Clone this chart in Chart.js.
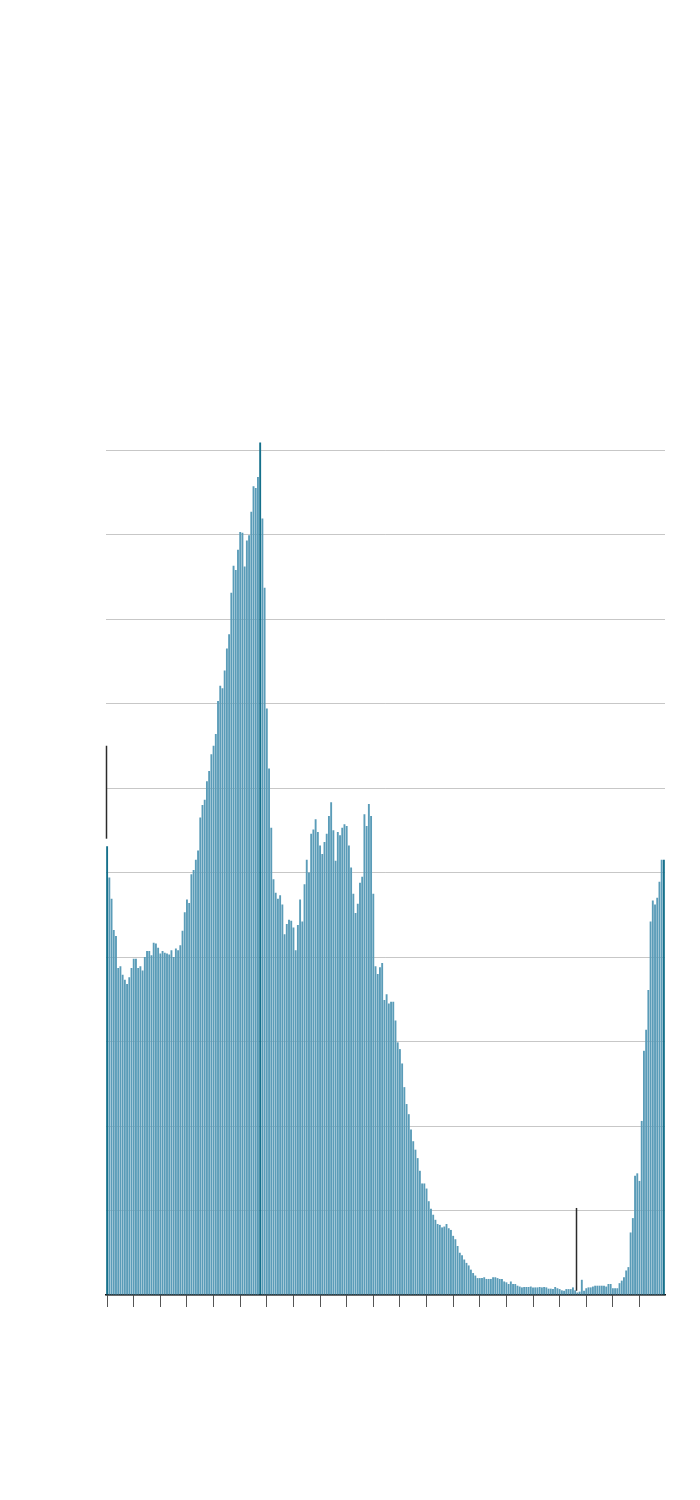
<!DOCTYPE html>
<html>
<head>
<meta charset="utf-8">
<script src="https://cdn.jsdelivr.net/npm/chart.js@4.4.1/dist/chart.umd.min.js"></script>
<style>
  body { margin: 0; background: #ffffff; }
  canvas { display: block; }
</style>
</head>
<body>
<canvas id="barChart" width="700" height="1500"></canvas>
<script>
// 21 years of monthly values, one tick per year
const years = ['Year 1', 'Year 2', 'Year 3', 'Year 4', 'Year 5', 'Year 6', 'Year 7',
  'Year 8', 'Year 9', 'Year 10', 'Year 11', 'Year 12', 'Year 13', 'Year 14',
  'Year 15', 'Year 16', 'Year 17', 'Year 18', 'Year 19', 'Year 20', 'Year 21'];
const months = ['Jan', 'Feb', 'Mar', 'Apr', 'May', 'Jun', 'Jul', 'Aug', 'Sep', 'Oct', 'Nov', 'Dec'];

const values = [
  53.1, 49.4, 46.9, 43.2, 42.5, 38.7, 38.9, 37.9, 37.3, 36.8,
  37.6, 38.7, 39.8, 39.8, 38.7, 38.9, 38.4, 40.0, 40.7, 40.7,
  40.2, 41.7, 41.6, 41.1, 40.4, 40.7, 40.5, 40.4, 40.3, 40.8,
  40.0, 41.0, 40.8, 41.4, 43.1, 45.3, 46.8, 46.4, 49.8, 50.3,
  51.5, 52.6,
  56.5, 58.0, 58.6, 60.8, 62.0, 64.0, 65.0, 66.4,
  70.3, 72.1, 71.8, 73.9, 76.5, 78.2, 83.1, 86.3, 85.8, 88.2,
  90.3, 90.2, 86.2, 89.3, 89.9, 92.7, 95.7, 95.5, 96.8, 100.9,
  91.9, 83.7, 69.4, 62.3,
  55.3, 49.2, 47.6, 46.9, 47.3, 46.2,
  42.7, 43.9, 44.4, 44.3, 43.5, 40.8, 43.8, 46.8, 44.2, 48.6,
  51.5, 50.0, 54.6, 55.1, 56.3, 54.8, 53.2, 52.2, 53.6, 54.6,
  56.7, 58.3, 55.0, 51.4, 54.8, 54.4, 55.3, 55.7, 55.5, 53.2,
  50.6, 47.5, 45.2, 46.3, 48.8, 49.5, 56.9, 55.5, 58.1, 56.7,
  47.5, 38.9, 38.0, 38.8,
  39.3, 34.9, 35.6, 34.5, 34.7, 34.7,
  32.5, 29.9, 29.1, 27.4, 24.6, 22.6, 21.4, 19.6, 18.2, 17.2,
  16.2, 14.7, 13.2, 13.2, 12.6, 11.1, 10.2, 9.5, 8.9, 8.4,
  8.3, 8.0, 8.1, 8.4, 7.9, 7.7, 7.0, 6.6, 5.8, 5.0,
  4.7, 4.2, 3.8, 3.5, 3.0,
  2.6, 2.3, 2.0, 2.0, 2.0,
  2.1, 1.9, 1.9, 1.9, 2.1, 2.1, 2.0, 1.9, 1.9, 1.6,
  1.5, 1.3, 1.6, 1.3, 1.3, 1.1, 1.0, 0.9, 0.95, 0.95,
  0.95, 1.0, 0.9, 0.9, 0.9, 0.95, 0.9, 0.95, 0.9, 0.75,
  0.75, 0.7, 0.95, 0.8, 0.7, 0.55, 0.5, 0.7, 0.7, 0.7,
  0.9, 0.55, 0.3, 0.4,
  1.8, 0.5, 0.8, 0.9, 0.9, 1.0,
  1.1, 1.1, 1.1, 1.1, 1.1, 1.0, 1.3, 1.3, 0.8, 0.8,
  0.8, 1.4, 1.7, 2.1, 2.9, 3.3, 7.4, 9.1, 14.1, 14.4,
  13.5, 20.6, 28.9, 31.4, 36.1, 44.2, 46.7, 46.2, 47.0, 48.9,
  51.5, 51.5
];

// bars drawn in the darker shade
const highlighted = [0, 69, 251];

// marker lines: bar index, from value, to value
const markerIndex = [0, 212];
const markerFrom = [54.0, 0.5];
const markerTo = [65.0, 10.3];

const categories = years.flatMap(y => months.map(m => m + ' ' + y));

const barColor = '#5a9cb8';
const darkColor = '#15708b';

// draws the thin black marker lines on top of the bars
const markerPlugin = {
  id: 'markers',
  afterDatasetsDraw(chart) {
    const ctx = chart.ctx;
    const x = chart.scales.x;
    const y = chart.scales.y;
    ctx.save();
    ctx.strokeStyle = '#2b2b2b';
    ctx.lineWidth = 1.5;
    markerIndex.forEach((idx, i) => {
      const px = Math.round(x.getPixelForValue(idx)) - 0.5;
      ctx.beginPath();
      ctx.moveTo(px, y.getPixelForValue(markerFrom[i]));
      ctx.lineTo(px, y.getPixelForValue(markerTo[i]));
      ctx.stroke();
    });
    ctx.restore();
  }
};

const chartRef = document.getElementById('barChart').getContext('2d');

new Chart(chartRef, {
  type: 'bar',
  data: {
    labels: categories,
    datasets: [{
      data: values,
      backgroundColor: categories.map((c, i) => highlighted.includes(i) ? darkColor : barColor),
      borderWidth: 0,
      barPercentage: 0.85,
      categoryPercentage: 1.0,
      clip: false
    }]
  },
  options: {
    responsive: false,
    animation: false,
    layout: {
      padding: { left: 106, right: 35, top: 450, bottom: 193 }
    },
    plugins: {
      legend: { display: false },
      tooltip: { enabled: false }
    },
    scales: {
      x: {
        ticks: { display: false, autoSkip: false },
        grid: {
          offset: false,
          drawOnChartArea: false,
          drawTicks: true,
          tickLength: 12,
          lineWidth: 1,
          tickColor: (c) => (c.index % 12 === 0) ? '#555555' : 'rgba(0,0,0,0)'
        },
        border: { display: true, color: '#111111', width: 1.5 }
      },
      y: {
        min: 0,
        max: 100,
        z: 1,
        ticks: { display: false, stepSize: 10 },
        grid: {
          color: 'rgba(0,0,0,0.22)',
          lineWidth: 1,
          drawTicks: false
        },
        border: { display: false }
      }
    }
  },
  plugins: [markerPlugin]
});
</script>
</body>
</html>
